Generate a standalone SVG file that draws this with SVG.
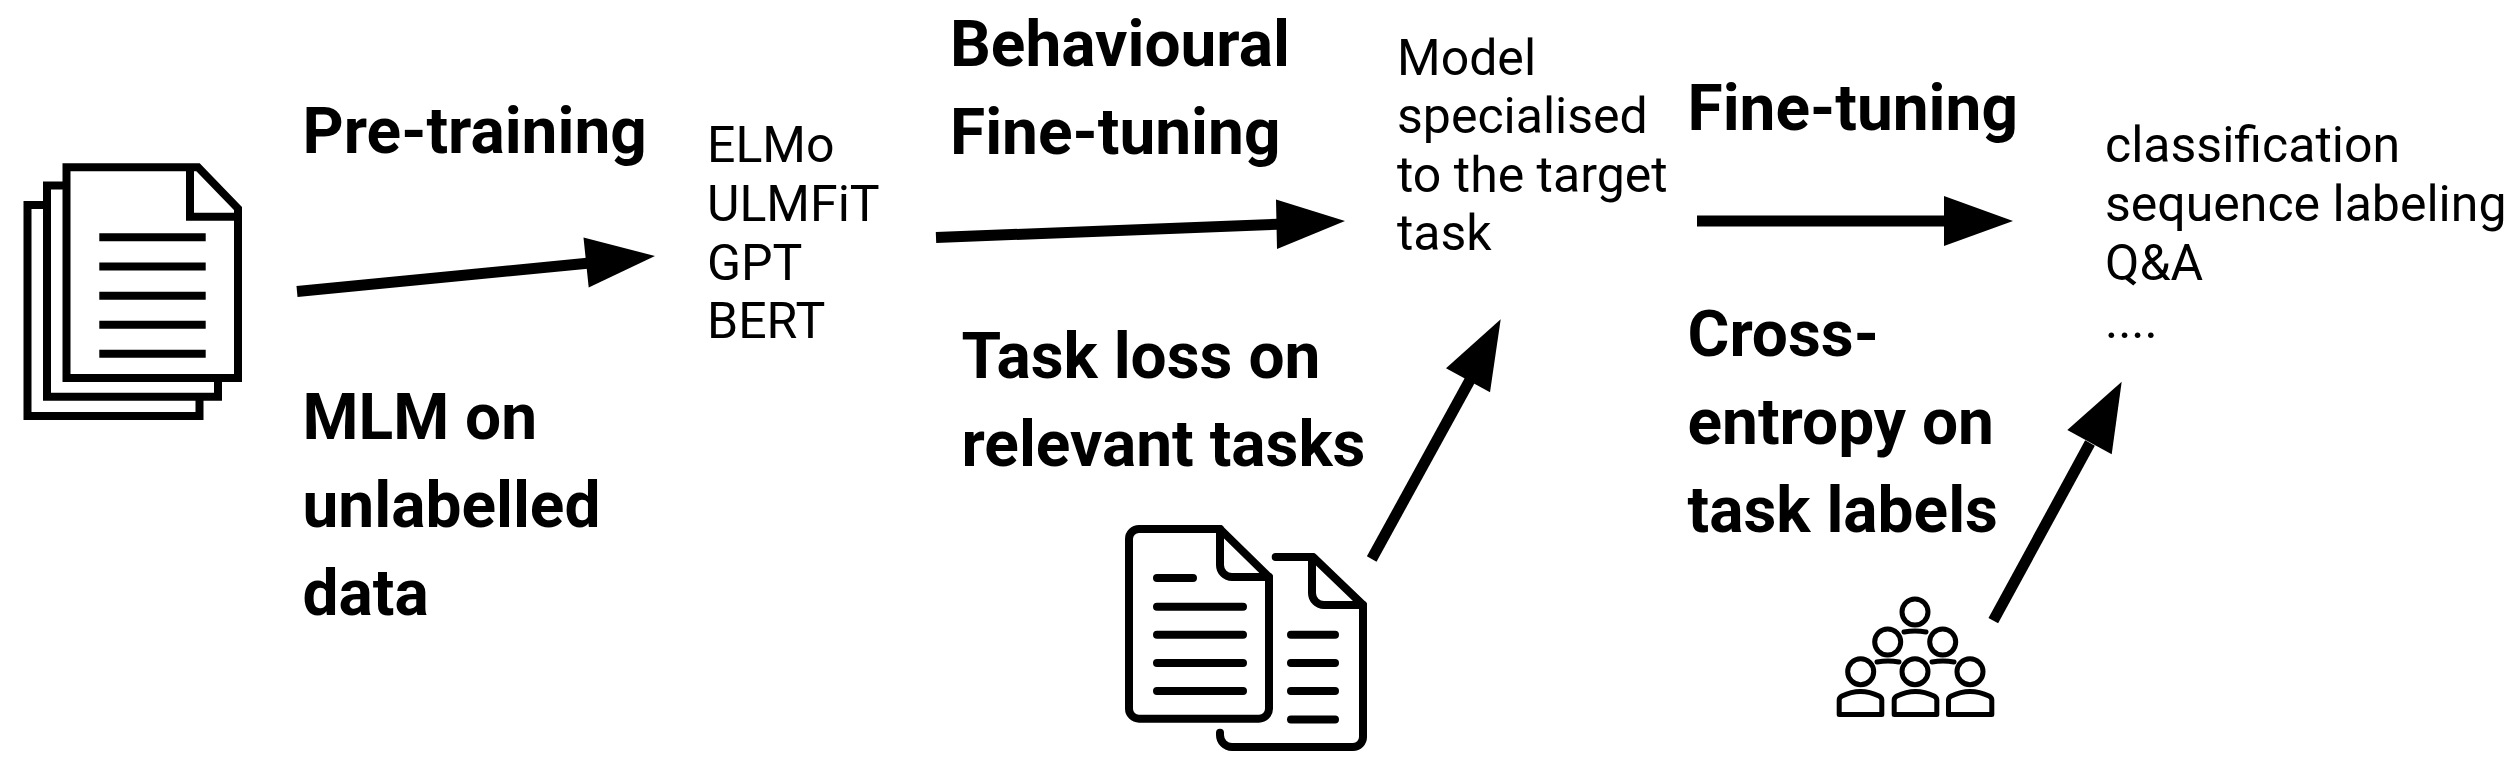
<svg xmlns="http://www.w3.org/2000/svg" width="2513" height="763" viewBox="0 0 2513 763">
<style>
text{font-family:Roboto,"Liberation Sans",sans-serif;fill:#000}
.b{font-weight:700;font-size:64px}
.r{font-size:50px}
.i{fill:none;stroke:#000;stroke-width:8}
.ir{fill:none;stroke:#000;stroke-width:8;stroke-linecap:round;stroke-linejoin:round}
.p{fill:none;stroke:#000;stroke-width:5;stroke-linecap:round;stroke-linejoin:round}
.s{fill:none;stroke:#000;stroke-width:11}
</style>
<rect width="2513" height="763" fill="#fff"/>
<g id="connectors">
<path class="s" d="M297 291.500L595 262.500"/><path d="M655 256L588.700 287.500L583.500 237.500Z"/>
<path class="s" d="M936 237.500L1285 224"/><path d="M1345 221L1277 249L1276 199.500Z"/>
<path class="s" d="M1697 221L1950 221"/><path d="M2013 221L1944 246L1944 196Z"/>
<path class="s" d="M1371.700 559L1470 380"/><path d="M1500.700 319.300L1490 392.300L1446 368.300Z"/>
<path class="s" d="M1993.300 620.700L2090 443"/><path d="M2121.700 381.700L2111.700 454.300L2067.300 430Z"/>
</g>
<g id="docs-stack">
<path class="i" d="M66.500 167.300H198L238 208.500V378H66.500Z"/>
<path class="i" d="M190 167.300V216.700H238"/>
<path class="i" d="M66 185.500H47V396.700H218V382"/>
<path class="i" d="M47 205H27.500V416H199.500V400"/>
<path class="i" d="M99.300 237.300H205.700M99.300 266.500H205.700M99.300 295.700H205.700M99.300 324.700H205.700M99.300 353.700H205.700"/>
</g>
<g id="docs-pair">
<path class="ir" d="M1139 529H1220L1269 577V708.700A10 10 0 0 1 1259 718.700H1139A10 10 0 0 1 1129 708.700V539A10 10 0 0 1 1139 529Z"/>
<path class="ir" d="M1220 529V565A12 12 0 0 0 1232 577H1269"/>
<path class="ir" d="M1275.700 557H1313L1363 605V737A10 10 0 0 1 1353 747H1232A12 12 0 0 1 1220 735V732.700"/>
<path class="ir" d="M1312 557V593A12 12 0 0 0 1324 605H1363"/>
<path class="ir" d="M1157 578H1193M1157 606.700H1243M1157 634.700H1243M1157 663H1243M1157 691H1243"/>
<path class="ir" d="M1291 634.700H1335M1291 663H1335M1291 691H1335M1291 719.600H1335"/>
</g>
<g id="people">
<circle class="p" cx="1915" cy="612" r="13"/>
<circle class="p" cx="1887.700" cy="642" r="13"/><circle class="p" cx="1942.700" cy="642" r="13"/>
<circle class="p" cx="1860.700" cy="671.700" r="13"/><circle class="p" cx="1915" cy="671.700" r="13"/><circle class="p" cx="1970" cy="671.700" r="13"/>
<path class="p" d="M1904 632Q1915 630 1926 632M1877 662Q1888 660 1899 662M1932 662Q1943 660 1954 662"/>
<path class="p" d="M1839.200 714.500V700Q1839.200 697.500 1842 696Q1860.500 687 1879 696Q1881.800 697.500 1881.800 700V714.500Z"/>
<path class="p" d="M1894.200 714.500V700Q1894.200 697.500 1897 696Q1915.500 687 1934 696Q1936.800 697.500 1936.800 700V714.500Z"/>
<path class="p" d="M1948.500 714.500V700Q1948.500 697.500 1951.300 696Q1970 687 1989 696Q1991.800 697.500 1991.800 700V714.500Z"/>
</g>
<g id="pre-training"><text class="b" x="302.500" y="153">Pre-training</text></g>
<g id="mlm"><text class="b" x="302.500" y="439">MLM on</text><text class="b" x="302.500" y="527">unlabelled</text><text class="b" x="302.500" y="615">data</text></g>
<g id="models"><text class="r" x="707" y="162">ELMo</text><text class="r" x="707" y="220.500">ULMFiT</text><text class="r" x="707" y="279.500">GPT</text><text class="r" x="707" y="338">BERT</text></g>
<g id="behavioural"><text class="b" x="950" y="66">Behavioural</text><text class="b" x="950" y="154">Fine-tuning</text></g>
<g id="task-loss"><text class="b" x="961.500" y="378">Task loss on</text><text class="b" x="961.500" y="466">relevant tasks</text></g>
<g id="specialised"><text class="r" x="1397" y="74.500">Model</text><text class="r" x="1397" y="133">specialised</text><text class="r" x="1397" y="191.500">to the target</text><text class="r" x="1397" y="250">task</text></g>
<g id="fine-tuning"><text class="b" x="1687.500" y="130">Fine-tuning</text></g>
<g id="cross-entropy"><text class="b" x="1687.500" y="356">Cross-</text><text class="b" x="1687.500" y="444">entropy on</text><text class="b" x="1687.500" y="532">task labels</text></g>
<g id="tasks"><text class="r" x="2105" y="162">classification</text><text class="r" x="2105" y="220.500">sequence labeling</text><text class="r" x="2105" y="279.500">Q&amp;A</text><text class="r" x="2105" y="338">....</text></g>
</svg>
